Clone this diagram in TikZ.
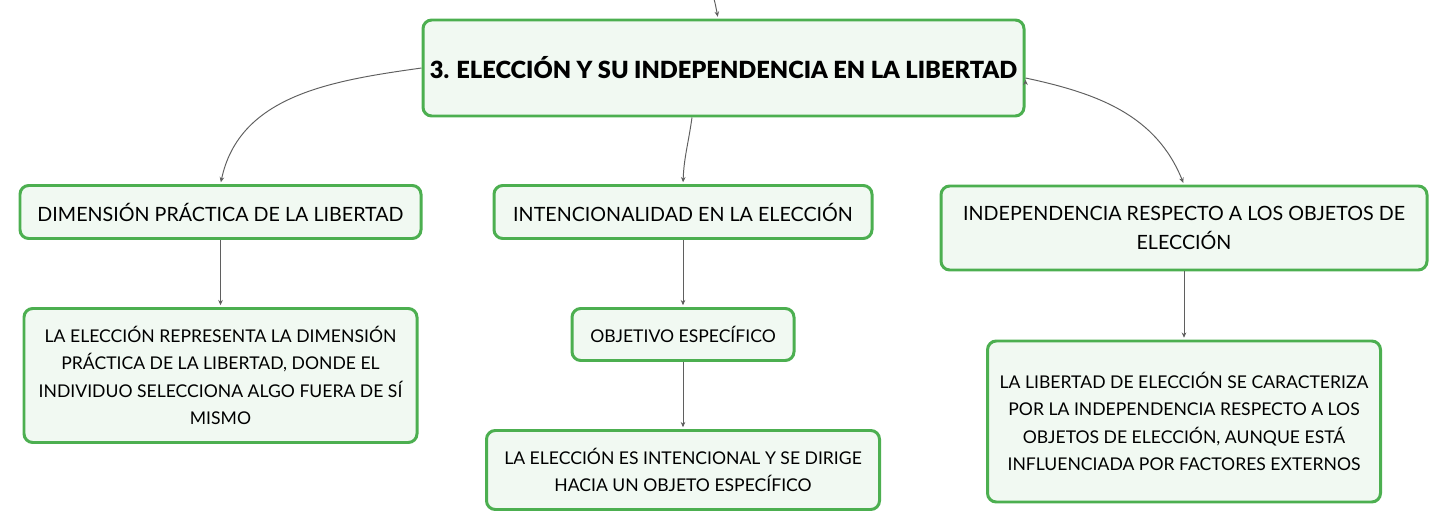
\documentclass[tikz,border=0pt]{standalone}
\usepackage{fontspec}
\setmainfont{Lato}
\newfontfamily\headfont{Lato Black}
\usetikzlibrary{positioning,arrows.meta}
\definecolor{boxgreen}{RGB}{76,175,80}
\definecolor{boxfill}{RGB}{241,249,242}
\definecolor{linegray}{RGB}{95,95,95}

\begin{document}
\begin{tikzpicture}[shorten >=1pt,on grid,>={Stealth[length=3pt,width=2.6pt]},
	topic/.style={draw=boxgreen,fill=boxfill,line width=1.7pt,rounded corners=5pt,
		inner sep=0pt,align=center,font=\fontsize{10}{15.5}\selectfont},
	subtopic/.style={topic,font=\fontsize{11.2}{17}\selectfont},
	link/.style={draw=linegray,line width=0.55pt}]
	   \useasboundingbox (0,0) rectangle (28.96,-10.6);
	   \node[topic,minimum width=12.02cm,minimum height=1.92cm,
	         font=\headfont\fontsize{13.45}{16}\selectfont] (root) at (14.47,-1.36)
	         {3. ELECCIÓN Y SU INDEPENDENCIA EN LA LIBERTAD};
	   \coordinate (above) at (14.26,0.1);
	   % first level
	   \node[subtopic,minimum width=8.02cm,minimum height=1.06cm] (dim)
	         [below left=2.88cm and 10.06cm of root] {DIMENSIÓN PRÁCTICA DE LA LIBERTAD};
	   \node[subtopic,minimum width=7.56cm,minimum height=1.06cm] (int)
	         [below left=2.88cm and 0.81cm of root] {INTENCIONALIDAD EN LA ELECCIÓN};
	   \node[subtopic,minimum width=9.72cm,minimum height=1.68cm] (ind)
	         [below right=3.2cm and 9.21cm of root] {INDEPENDENCIA RESPECTO A LOS OBJETOS DE\\ELECCIÓN};
	   % second level
	   \node[topic,minimum width=7.86cm,minimum height=2.68cm] (dimtext)
	         [below=3.27cm of dim] {LA ELECCIÓN REPRESENTA LA DIMENSIÓN\\PRÁCTICA DE LA LIBERTAD, DONDE EL\\INDIVIDUO SELECCIONA ALGO FUERA DE SÍ\\MISMO};
	   \node[topic,minimum width=4.44cm,minimum height=1.04cm] (obj)
	         [below=2.45cm of int] {OBJETIVO ESPECÍFICO};
	   \node[topic,minimum width=7.86cm,minimum height=1.58cm] (inttext)
	         [below=2.71cm of obj] {LA ELECCIÓN ES INTENCIONAL Y SE DIRIGE\\HACIA UN OBJETO ESPECÍFICO};
	   \node[topic,minimum width=7.86cm,minimum height=3.22cm] (indtext)
	         [below=3.87cm of ind] {LA LIBERTAD DE ELECCIÓN SE CARACTERIZA\\POR LA INDEPENDENCIA RESPECTO A LOS\\OBJETOS DE ELECCIÓN, AUNQUE ESTÁ\\INFLUENCIADA POR FACTORES EXTERNOS};
	    \path[->,link]
	    (above) edge [out=-75,in=100] ([xshift=-0.11cm]root.north)
	    (root.west) edge [out=188,in=78] (dim.north)
	    ([xshift=-0.63cm]root.south) edge [out=-98,in=88] (int.north)
	    ([yshift=-0.2cm]root.east) edge [out=-12,in=112] (ind.north)
	    (dim) edge (dimtext)
	    (int) edge (obj)
	    (obj) edge (inttext)
	    (ind) edge (indtext);
	\end{tikzpicture}
\end{document}
